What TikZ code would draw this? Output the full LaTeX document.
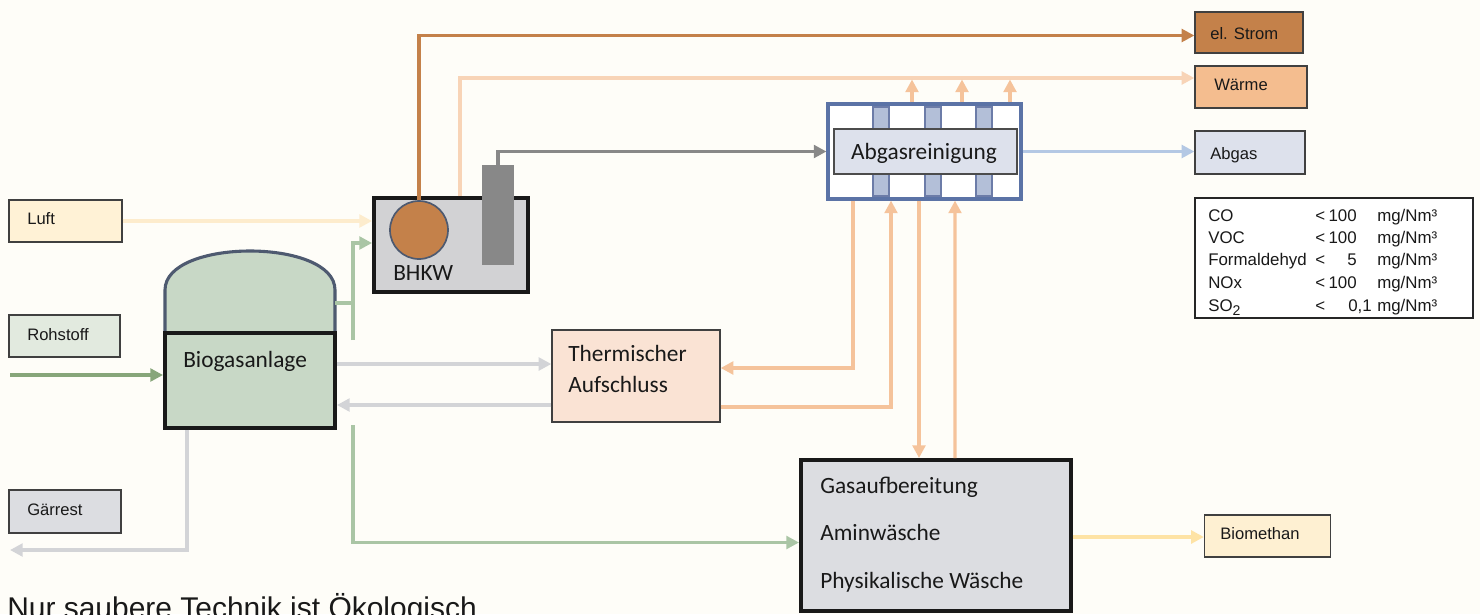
\documentclass[tikz,border=0pt]{standalone}
\usepackage{fontspec}
\setmainfont{Liberation Sans}
\newfontfamily\carlito{Carlito}
\usetikzlibrary{calc,arrows.meta}

\newlength\pxu
\setlength\pxu{0.025cm}

\definecolor{bgcol}{RGB}{254,253,248}
\definecolor{luftcol}{RGB}{255,242,214}
\definecolor{luftline}{RGB}{253,236,205}
\definecolor{rohcol}{RGB}{226,234,223}
\definecolor{rohline}{RGB}{135,166,122}
\definecolor{restcol}{RGB}{220,221,225}
\definecolor{restgrau}{RGB}{211,212,215}
\definecolor{stromcol}{RGB}{196,129,74}
\definecolor{waermecol}{RGB}{244,189,143}
\definecolor{heatline}{RGB}{248,212,183}
\definecolor{peach}{RGB}{245,195,155}
\definecolor{abgascol}{RGB}{221,225,236}
\definecolor{abgasline}{RGB}{180,200,228}
\definecolor{rahmenblau}{RGB}{91,115,166}
\definecolor{stabblau}{RGB}{179,191,216}
\definecolor{stabrand}{RGB}{108,124,168}
\definecolor{methancol}{RGB}{254,240,210}
\definecolor{methanline}{RGB}{254,227,165}
\definecolor{thermcol}{RGB}{250,227,212}
\definecolor{biogascol}{RGB}{200,216,198}
\definecolor{gasline}{RGB}{170,197,165}
\definecolor{domeline}{RGB}{78,90,112}
\definecolor{bhkwcol}{RGB}{210,210,212}
\definecolor{rauchgrau}{RGB}{136,136,136}

\tikzset{
  flow/.style={line width=2.3pt, -{Triangle[length=9pt,width=9pt]}},
  pipe/.style={line width=2.3pt},
  lbox/.style={draw=black!75, line width=0.9pt, inner sep=0pt},
  hbox/.style={draw=black!90, line width=2.8pt, inner sep=0pt},
  lbl/.style={font=\fontsize{11.8}{14}\selectfont, anchor=base west, inner sep=0pt, text=black!90},
  cal/.style={font=\carlito\fontsize{16.6}{20}\selectfont, anchor=base west, inner sep=0pt, text=black!90},
  tab/.style={font=\fontsize{12}{14}\selectfont, anchor=base west, inner sep=0pt, text=black!90},
  stab/.style={fill=stabblau, draw=stabrand, line width=0.8pt, minimum width=16\pxu, minimum height=22\pxu, inner sep=0pt},
}

\begin{document}
\begin{tikzpicture}[x=0.025cm, y=-0.025cm]
\fill[bgcol] (0,0) rectangle (1480,614);
\useasboundingbox (0,0) rectangle (1480,614);

% Ein- und Ausgaenge
\node[lbox, fill=luftcol, minimum width=113\pxu, minimum height=42\pxu] (luft) at (65.5,221) {};
\node[lbl] (luft-t) at (27,224) {Luft};
\node[lbox, fill=rohcol, minimum width=111\pxu, minimum height=42\pxu] (roh) at (64.5,336) {};
\node[lbl] (roh-t) at (27,340) {Rohstoff};
\node[lbox, fill=restcol, minimum width=112\pxu, minimum height=43\pxu] (rest) at (65,511.5) {};
\node[lbl] (rest-t) at (27,515) {Gärrest};
\node[lbox, fill=stromcol, minimum width=108\pxu, minimum height=41\pxu] (strom) at (1249,32.5) {};
\node[lbl] (strom-t) at (1210,39) {el. Strom};
\node[lbox, fill=waermecol, minimum width=112\pxu, minimum height=42\pxu] (waerme) at (1251,87) {};
\node[lbl] (waerme-t) at (1214,90.5) {Wärme};
\node[lbox, fill=abgascol, minimum width=110\pxu, minimum height=43\pxu] (abgas) at (1250,152.5) {};
\node[lbl] (abgas-t) at (1210,159) {Abgas};
\node[lbox, fill=methancol, minimum width=126\pxu, minimum height=42\pxu] (methan) at (1267.5,536) {};
\node[lbl] (methan-t) at (1220,539) {Biomethan};

% Grenzwerte
\node[lbox, fill=white, draw=black!85, minimum width=278\pxu, minimum height=120\pxu] (grenz) at (1334,258) {};
\foreach \stoff/\wert/\y in {CO/100/221, VOC/100/243, Formaldehyd/5/265.5, NOx/100/288}{
  \node[tab] (n-\stoff) at (1208,\y) {\stoff};
  \node[tab] (k-\stoff) at (1315,\y) {<};
  \node[tab, anchor=base east] (w-\stoff) at (1357,\y) {\wert};
  \node[tab] (e-\stoff) at (1377,\y) {mg/Nm³};
}
\node[tab] (n-so) at (1208,311) {SO\raisebox{-0.45ex}{\fontsize{10}{12}\selectfont 2}};
\node[tab] (k-so) at (1315,311) {<};
\node[tab] (w-so) at (1348,311) {0,1};
\node[tab] (e-so) at (1377,311) {mg/Nm³};

% Biogasanlage
\draw[fill=biogascol, draw=domeline, line width=2.2pt] (165,333) -- (165,290) .. controls (165,238) and (335,238) .. (335,290) -- (335,333) -- cycle;
\node[hbox, fill=biogascol, minimum width=170\pxu, minimum height=95\pxu] (biogas) at (250,380.5) {};
\node[cal] (biogas-t) at (183,367) {Biogasanlage};

% BHKW
\node[hbox, fill=bhkwcol, minimum width=154\pxu, minimum height=94\pxu] (bhkw) at (451,245) {};
\node[circle, fill=stromcol, draw=domeline, line width=1.2pt, minimum size=58\pxu, inner sep=0pt] (motor) at (419,230) {};
\node[fill=rauchgrau, minimum width=32\pxu, minimum height=100\pxu, inner sep=0pt] (kamin) at (498,215) {};
\node[cal] (bhkw-t) at (393,280) {BHKW};

% Abgasreinigung
\node[fill=white, draw=rahmenblau, line width=2.2pt, minimum width=193\pxu, minimum height=95\pxu, inner sep=0pt] (reinig) at (924.5,151.5) {};
\foreach \x in {881,933,984}{
  \node[stab] (so-\x) at (\x,118) {};
  \node[stab] (su-\x) at (\x,185) {};
}
\node[fill=abgascol, draw=black!70, line width=0.9pt, minimum width=183\pxu, minimum height=45\pxu, inner sep=0pt] (filter) at (925.5,151.5) {};
\node[cal, anchor=base] (reinig-t) at (924,159) {Abgasreinigung};

% Thermischer Aufschluss
\node[lbox, fill=thermcol, minimum width=168\pxu, minimum height=92\pxu] (therm) at (636,376) {};
\node[cal] (therm-t1) at (568,361.5) {Thermischer};
\node[cal] (therm-t2) at (568,392.5) {Aufschluss};

% Gasaufbereitung
\node[hbox, fill=restcol, minimum width=270\pxu, minimum height=151\pxu] (gasauf) at (936,535.5) {};
\node[cal] (gasauf-t1) at (820,493) {Gasaufbereitung};
\node[cal] (gasauf-t2) at (820,540) {Aminwäsche};
\node[cal] (gasauf-t3) at (820,588) {Physikalische Wäsche};

\node[anchor=base west, inner sep=0pt, font=\fontsize{21.3}{25}\selectfont, text=black!90] (motto) at (7,618.5) {Nur saubere Technik ist Ökologisch};

% Stroeme
\coordinate (domeR) at (335,303);
\coordinate (gasknoten) at (353,303);
\coordinate (gasunten) at (353,340);
\coordinate (gasab) at (353,425);
\coordinate (rohzu) at (10,375);
\coordinate (restab) at (10,550);

\draw[flow, draw=stromcol, line width=2.6pt] (motor.north) |- ([yshift=-3\pxu]strom.west);
\draw[flow, draw=heatline] ([xshift=9\pxu]bhkw.north) |- ([yshift=9\pxu]waerme.west);
\draw[flow, draw=rauchgrau] (kamin.north) |- (reinig.west);
\draw[flow, draw=abgasline] (reinig.east) -- (reinig.east -| abgas.west);
\foreach \dx in {-12.5,37.5,85.5}
  \draw[flow, draw=peach] ([xshift=\dx\pxu]reinig.north) -- ++(0,-23);
\draw[flow, draw=luftline] (luft.east) -- (luft.east -| bhkw.west);
\draw[pipe, draw=gasline] (domeR) -- (gasknoten);
\draw[flow, draw=gasline] (gasunten) |- ([yshift=2\pxu]bhkw.west);
\draw[flow, draw=gasline] (gasab) |- ([yshift=-7\pxu]gasauf.west);
\draw[flow, draw=rohline, line width=2.8pt] (rohzu) -- (rohzu -| biogas.west);
\draw[flow, draw=restgrau] ([yshift=16.5\pxu]biogas.east) coordinate (s1) -- (s1 -| therm.west);
\draw[flow, draw=restgrau] ([yshift=-29\pxu]therm.west) coordinate (s2) -- (s2 -| biogas.east);
\draw[flow, draw=restgrau] ([xshift=-63\pxu]biogas.south) |- (restab);
\draw[flow, draw=peach] ([xshift=-71.5\pxu]reinig.south) |- ([yshift=8\pxu]therm.east);
\draw[flow, draw=peach] ([yshift=-31\pxu]therm.east) -| ([xshift=-33.5\pxu]reinig.south);
\draw[flow, draw=peach] ([xshift=-5.5\pxu]reinig.south) -- ([xshift=-17\pxu]gasauf.north);
\draw[flow, draw=peach] ([xshift=19\pxu]gasauf.north) -- ([xshift=30.5\pxu]reinig.south);
\draw[flow, draw=methanline] ([yshift=-1.5\pxu]gasauf.east) coordinate (s3) -- (s3 -| methan.west);
\end{tikzpicture}
\end{document}
